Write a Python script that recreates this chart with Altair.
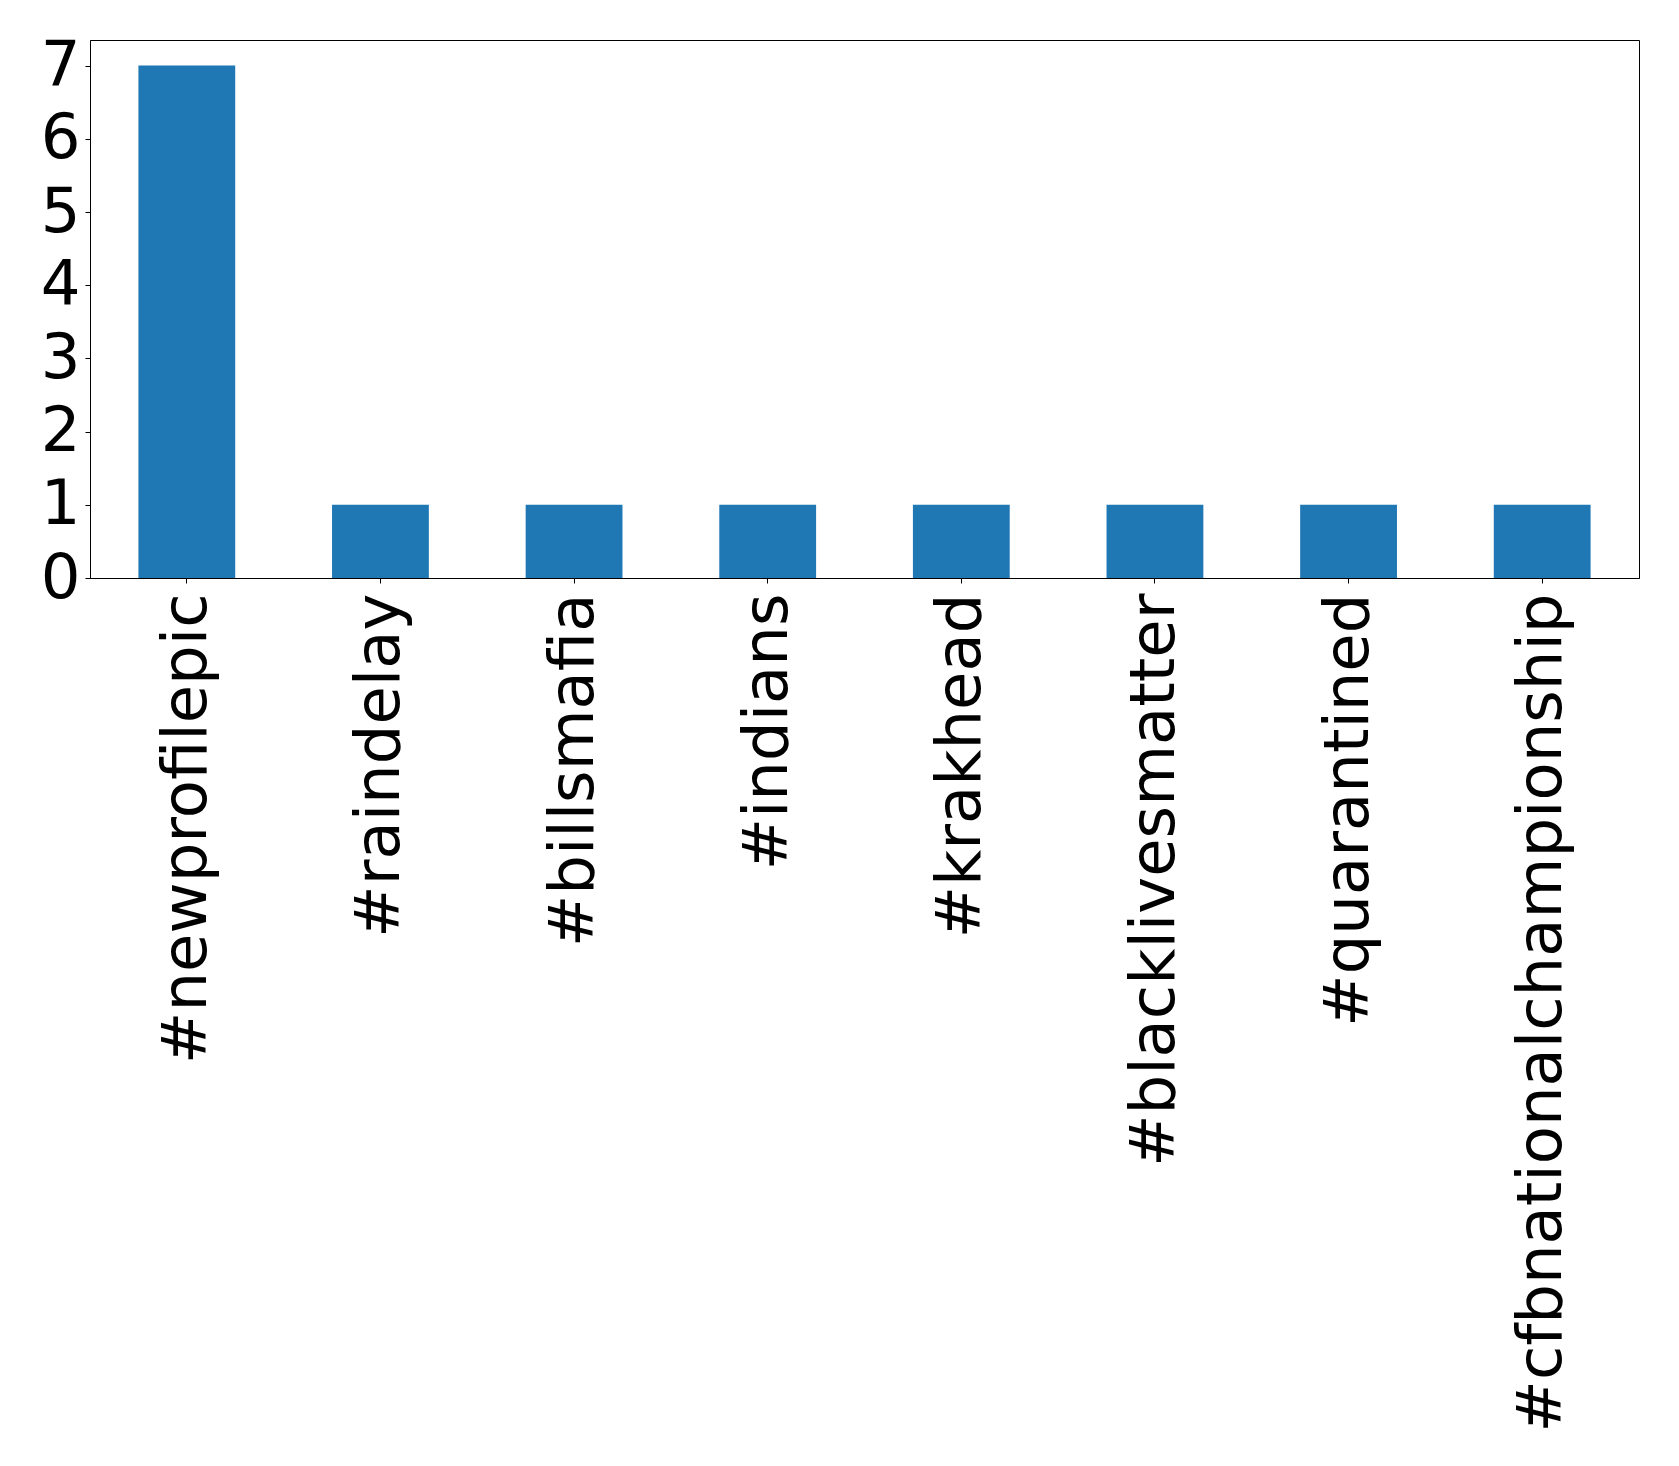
import altair as alt
import pandas as pd

tags = ["#newprofilepic", "#raindelay", "#billsmafia", "#indians", "#krakhead",
        "#blacklivesmatter", "#quarantined", "#cfbnationalchampionship"]
counts = [7, 1, 1, 1, 1, 1, 1, 1]
y_ticks = [0, 1, 2, 3, 4, 5, 6, 7]

df = pd.DataFrame({"tag": tags, "count": counts})

chart = alt.Chart(df).mark_bar(color="#1f77b4").encode(
    x=alt.X("tag:N", sort=tags, title=None,
            scale=alt.Scale(paddingInner=0.5, paddingOuter=0.25),
            axis=alt.Axis(labelAngle=270, labelFontSize=62.5, labelFont="DejaVu Sans",
                          labelColor="black", tickColor="black", domainColor="black",
                          tickSize=5, labelPadding=10, labelLimit=0, domainWidth=1, tickWidth=1)),
    y=alt.Y("count:Q", title=None,
            scale=alt.Scale(domain=[0, 7.35], nice=False, zero=True),
            axis=alt.Axis(values=y_ticks, labelFontSize=62.5, labelFont="DejaVu Sans",
                          labelColor="black", tickColor="black", domainColor="black",
                          tickSize=5, labelPadding=5, grid=False, domainWidth=1, tickWidth=1,
                          labelBaseline="middle")),
).properties(
    width=1549,
    height=538,
    padding={"left": 82, "top": 32, "right": 30, "bottom": 880},
    autosize=alt.AutoSizeParams(type="none"),
    background="white",
).configure_view(
    stroke="black", strokeWidth=1
)

chart.save("out.html", embed_options={"renderer": "svg", "actions": False})
